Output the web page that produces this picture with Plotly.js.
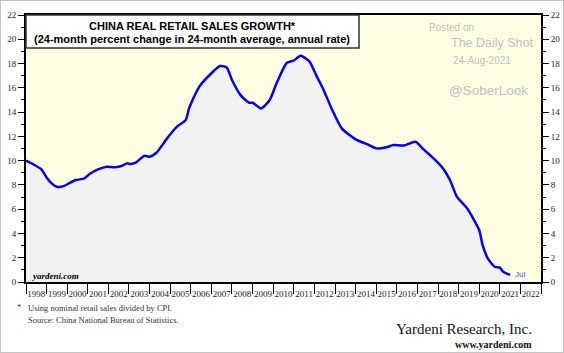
<!DOCTYPE html>
<html><head><meta charset="utf-8">
<script src="https://cdn.plot.ly/plotly-3.0.1.min.js"></script>
<style>
html,body{margin:0;padding:0;background:#fff;}
#wrap{position:relative;width:564px;height:353px;}
#chart{width:564px;height:353px;}
#frame{position:absolute;left:0;top:0;width:562px;height:351px;border:1px solid #c4c4c4;pointer-events:none;}
</style></head>
<body>
<div id="wrap"><div id="chart"></div><div id="frame"></div></div>
<script>
const dates = ["1998-01","1998-06","1998-10","1999-01","1999-04","1999-07","1999-11","2000-02","2000-06","2000-11",
"2001-02","2001-07","2001-12","2002-05","2002-09","2002-12","2003-02","2003-05","2003-10","2004-01",
"2004-05","2004-08","2004-11","2005-05","2005-10","2005-12","2006-02","2006-06","2007-01","2007-06",
"2007-10","2008-01","2008-06","2008-11","2009-01","2009-06","2009-11","2010-03","2010-09","2011-01",
"2011-05","2011-10","2012-02","2012-06","2012-11","2013-05","2014-01","2014-08","2015-01","2015-07",
"2015-11","2016-05","2016-12","2017-04","2017-10","2018-04","2018-08","2018-12","2019-06","2020-01",
"2020-03","2020-06","2020-10","2021-01","2021-03","2021-07"];
const growth = [10.0,9.64,9.28,8.62,8.13,7.85,7.9,8.13,8.4,8.54,
8.9,9.28,9.5,9.45,9.58,9.78,9.72,9.83,10.4,10.32,
10.65,11.2,11.8,12.8,13.34,14.3,15.0,16.1,17.2,17.8,
17.68,16.64,15.4,14.77,14.77,14.3,15.0,16.37,18.06,18.25,
18.64,18.2,17.05,15.95,14.3,12.66,11.75,11.34,11.01,11.1,
11.28,11.25,11.56,11.01,10.25,9.36,8.4,7.03,6.07,4.28,
3.05,1.95,1.26,1.18,0.85,0.58];
const yTicks = [0,2,4,6,8,10,12,14,16,18,20,22];
const titleLines = ["CHINA REAL RETAIL SALES GROWTH*","(24-month percent change in 24-month average, annual rate)"];
const lastLabel = "Jul";

const serif = "Liberation Serif, Times New Roman, serif";
const sans = "Liberation Sans, Arial, sans-serif";

const traces = [{
  x: dates, y: growth, type: "scatter", mode: "lines",
  line: {color: "#0000ff", width: 2.5, shape: "spline", smoothing: 0.6},
  fill: "tozeroy", fillcolor: "#f2f2f2", hoverinfo: "skip"
}, {
  x: dates, y: growth, type: "scatter", mode: "lines", yaxis: "y2",
  line: {color: "rgba(0,0,0,0)", width: 0}, hoverinfo: "skip", showlegend: false
}];

const yaxisCommon = {
  range: [0, 22], tickvals: yTicks, ticktext: yTicks.map(String),
  ticks: "outside", ticklen: 6, tickwidth: 1, tickcolor: "#000",
  minor: {dtick: 1, tick0: 1, ticks: "outside", ticklen: 3, tickcolor: "#000", showgrid: false},
  showgrid: false, zeroline: false, showline: true, linecolor: "#000", linewidth: 2,
  tickfont: {family: serif, size: 9, color: "#222"}, fixedrange: true
};

function note(x, y, text, font, xa) {
  return {xref: "paper", yref: "paper", x: x / 515, y: 1 - y / 267, text: text, showarrow: false,
          xanchor: xa || "center", yanchor: "middle", font: font};
}

const layout = {
  width: 564, height: 353,
  margin: {l: 26, r: 23, t: 15, b: 71},
  paper_bgcolor: "#ffffff", plot_bgcolor: "#ffffe3",
  showlegend: false,
  xaxis: {
    type: "date", range: ["1998-01-01", "2023-01-01"],
    tick0: "1998-01-01", dtick: "M12", ticklabelmode: "period", tickformat: "%Y",
    ticks: "outside", ticklen: 10, tickwidth: 1, tickcolor: "#000", ticklabelstandoff: -8,
    tickangle: 0,
    showgrid: false, zeroline: false, showline: true, linecolor: "#000", linewidth: 2,
    mirror: true,
    tickfont: {family: serif, size: 9, color: "#222"}, fixedrange: true
  },
  yaxis: Object.assign({}, yaxisCommon, {side: "left"}),
  yaxis2: Object.assign({}, yaxisCommon, {side: "right", overlaying: "y", anchor: "x"}),
  shapes: [
    {type: "rect", xref: "paper", yref: "paper", x0: 0, x1: 333/515, y0: 1 - 33/267, y1: 1,
     fillcolor: "#ffffff", line: {color: "#333", width: 1.5}, layer: "above"}
  ],
  annotations: [
    note(166, 11, "<b>" + titleLines[0] + "</b>", {family: sans, size: 11, color: "#000"}),
    note(166, 24, "<b>" + titleLines[1] + "</b>", {family: sans, size: 11, color: "#000"}),
    note(425, 12, "Posted on", {family: sans, size: 10, color: "#c0c0c0"}),
    note(466, 28, "The Daily Shot", {family: sans, size: 12.5, color: "#c0c0c0"}),
    note(456, 46, "24-Aug-2021", {family: sans, size: 10, color: "#c0c0c0"}),
    note(462, 75, "@SoberLook", {family: sans, size: 13.5, color: "#c0c0c0"}),
    {xref: "x", yref: "y", x: dates[dates.length - 1], y: growth[growth.length - 1], text: lastLabel,
     showarrow: false, xanchor: "left", yanchor: "middle", xshift: 3,
     font: {family: sans, size: 8, color: "#3a4dff"}},
    note(4, 261, "<b><i>yardeni.com</i></b>", {family: serif, size: 9, color: "#000"}, "left"),
    note(-11, 292, "*", {family: serif, size: 8.5, color: "#333"}, "left"),
    note(0, 293, "Using nominal retail sales divided by CPI.", {family: serif, size: 8.5, color: "#333"}, "left"),
    note(0, 305, "Source: China National Bureau of Statistics.", {family: serif, size: 8.5, color: "#333"}, "left"),
    note(508, 314, "Yardeni Research, Inc.", {family: serif, size: 15, color: "#111"}, "right"),
    note(508, 329, "<b>www.yardeni.com</b>", {family: serif, size: 10, color: "#111"}, "right")
  ]
};
Plotly.newPlot("chart", traces, layout, {displayModeBar: false, staticPlot: true});
</script>
</body></html>
